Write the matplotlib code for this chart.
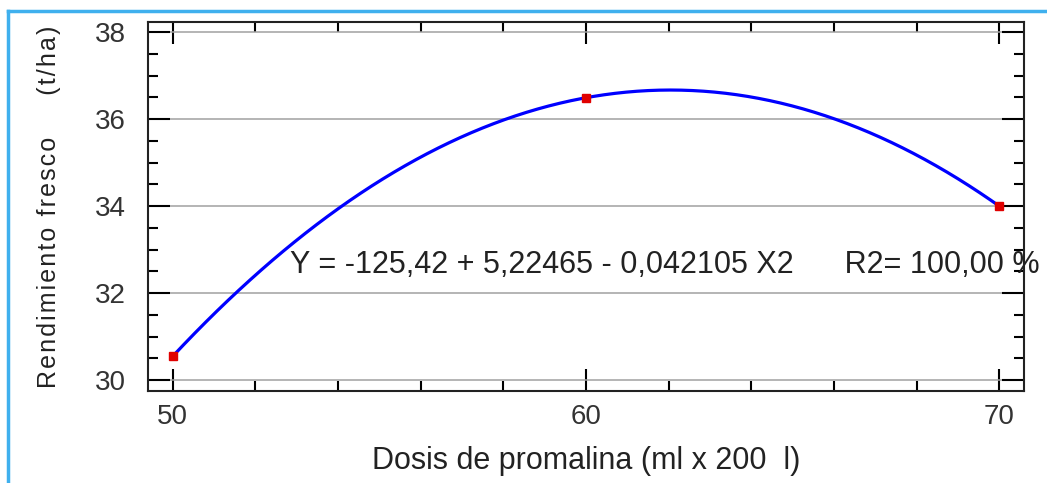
import numpy as np
import matplotlib.pyplot as plt
from matplotlib.lines import Line2D

# valores observados
dosis = [50, 60, 70]
rendimiento = [30.55, 36.49, 34.0]
ecuacion = "Y = -125,42 + 5,22465 - 0,042105 X2      R2= 100,00 %"

plt.rcParams['font.family'] = ['Liberation Sans', 'DejaVu Sans']

fig = plt.figure(figsize=(10.47, 4.83), dpi=100)
ax = fig.add_axes([148/1047, 92/483, 876/1047, 369/483])

# ajuste cuadratico
coef = np.polyfit(dosis, rendimiento, 2)
xs = np.linspace(dosis[0], dosis[-1], 300)
ax.plot(xs, np.polyval(coef, xs), color='#0000ff', lw=2.3, zorder=3)
ax.plot(dosis, rendimiento, 's', color='#e00000', ms=6, zorder=4)

ax.set_xlim(49.4, 70.6)
ax.set_ylim(29.75, 38.23)
ax.set_xticks([50, 60, 70])
ax.set_xticks(np.arange(50, 71, 2), minor=True)
ax.set_yticks([30, 32, 34, 36, 38])
ax.set_yticks(np.arange(30, 38.1, 0.5), minor=True)
ax.grid(axis='y', which='major', color='#a0a0a0', lw=1.1)
ax.tick_params(which='both', direction='in', top=True, right=True,
               labelsize=20, colors='black', width=1.5, labelcolor='#333333')
ax.tick_params(which='major', length=16)
ax.tick_params(axis='y', which='major', pad=16)
ax.tick_params(axis='x', which='major', pad=9)
ax.tick_params(which='minor', length=7)
for s in ax.spines.values():
    s.set_linewidth(1.5)
    s.set_color('#222222')

hs = "\u200a"
ylab = hs.join("Rendimiento fresco") + "      " + hs.join("(t/ha)")
ax.set_xlabel("Dosis de promalina (ml x 200  l)", fontsize=22, labelpad=12, color='#222222')
ax.set_ylabel(ylab, fontsize=18, labelpad=24, color='#222222')

ax.text(52.83, 32.65, ecuacion, fontsize=22, color='#222222', va='center', clip_on=False)

# marco azul
fig.add_artist(Line2D([8/1047, 1], [1 - 11/483, 1 - 11/483], color='#3fb0ee', lw=2.5))
fig.add_artist(Line2D([8/1047, 8/1047], [0, 1 - 11/483], color='#3fb0ee', lw=2.5))

fig.savefig("out.png", dpi=100)
